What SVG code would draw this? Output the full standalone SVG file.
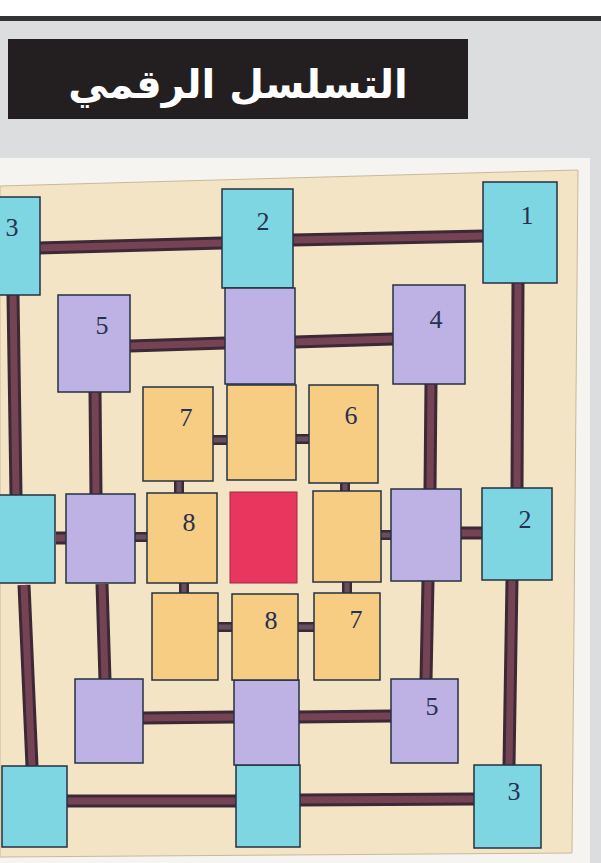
<svg xmlns="http://www.w3.org/2000/svg" width="601" height="863" viewBox="0 0 601 863">
<style>
.cy{fill:#7fd6e3;stroke:#263040;stroke-width:1.5}
.lv{fill:#bdb2e3;stroke:#263040;stroke-width:1.5}
.ye{fill:#f7cd84;stroke:#263040;stroke-width:1.5}
.rd{fill:#e8365e;stroke:#9a2a40;stroke-width:1}
.bo{stroke:#3d2836;stroke-width:13;fill:none}
.bi{stroke:#744454;stroke-width:7;fill:none}
.so{stroke:#3d2836;stroke-width:10;fill:none}
.si{stroke:#665060;stroke-width:5;fill:none}
.n{font-family:"Liberation Serif","Times New Roman",serif;font-size:26px;fill:#263050;text-anchor:middle}
</style>
<rect x="0" y="0" width="601" height="863" fill="#dcdddf"/>
<rect x="0" y="0" width="601" height="16" fill="#ffffff"/>
<rect x="0" y="16" width="601" height="5" fill="#333333"/>
<rect x="0" y="158" width="590" height="705" fill="#f5f4f1"/>
<polygon points="0,186 578,170 572,853 0,857" fill="#f3e4c6" stroke="#c9b99a" stroke-width="1"/>
<g id="title">
<rect x="8" y="39" width="460" height="80" fill="#231f20"/>
<text x="238" y="98" font-family="'DejaVu Sans','Noto Sans',sans-serif" font-weight="bold" font-size="40" fill="#ffffff" text-anchor="middle" direction="rtl">التسلسل الرقمي</text>
</g>
<g id="connectors">
<path class="bo" d="M38,248 L222,243 M293,240 L484,236 M518,282 L517,489 M512,580 L509,765 M67,801 L237,801 M300,800 L475,799 M13,295 L16,496 M24,585 L32,766 M130,346 L225,343 M295,342 L393,339 M95,391 L96,495 M102,584 L105,680 M431,383 L430,489 M428,581 L426,680 M143,718 L234,717 M298,717 L391,716 M56,538 L67,538 M460,533 L483,533"/>
<path class="bi" d="M38,248 L222,243 M293,240 L484,236 M518,282 L517,489 M512,580 L509,765 M67,801 L237,801 M300,800 L475,799 M13,295 L16,496 M24,585 L32,766 M130,346 L225,343 M295,342 L393,339 M95,391 L96,495 M102,584 L105,680 M431,383 L430,489 M428,581 L426,680 M143,718 L234,717 M298,717 L391,716 M56,538 L67,538 M460,533 L483,533"/>
<path class="so" d="M135,537 L148,537 M380,535 L391,535 M213,440 L228,440 M296,439 L309,439 M179,481 L179,493 M345,483 L345,491 M184,583 L184,594 M347,582 L347,593 M218,627 L232,627 M298,627 L314,627"/>
<path class="si" d="M135,537 L148,537 M380,535 L391,535 M213,440 L228,440 M296,439 L309,439 M179,481 L179,493 M345,483 L345,491 M184,583 L184,594 M347,582 L347,593 M218,627 L232,627 M298,627 L314,627"/>
</g>
<g id="outer-top-left"><rect class="cy" x="-2" y="197" width="42" height="98"/><text class="n" x="12" y="236">3</text></g>
<g id="outer-top-mid"><rect class="cy" x="222" y="189" width="71" height="99"/><text class="n" x="263" y="230">2</text></g>
<g id="outer-top-right"><rect class="cy" x="483" y="182" width="74" height="101"/><text class="n" x="527" y="224">1</text></g>
<g id="outer-mid-left"><rect class="cy" x="-2" y="495" width="57" height="88"/></g>
<g id="outer-mid-right"><rect class="cy" x="482" y="488" width="70" height="92"/><text class="n" x="525" y="528">2</text></g>
<g id="outer-bot-left"><rect class="cy" x="2" y="766" width="65" height="81"/></g>
<g id="outer-bot-mid"><rect class="cy" x="236" y="765" width="64" height="82"/></g>
<g id="outer-bot-right"><rect class="cy" x="474" y="765" width="67" height="83"/><text class="n" x="514" y="800">3</text></g>
<g id="mid-top-left"><rect class="lv" x="58" y="295" width="72" height="97"/><text class="n" x="102" y="334">5</text></g>
<g id="mid-top-mid"><rect class="lv" x="225" y="288" width="70" height="96"/></g>
<g id="mid-top-right"><rect class="lv" x="393" y="285" width="72" height="99"/><text class="n" x="436" y="328">4</text></g>
<g id="mid-mid-left"><rect class="lv" x="66" y="494" width="69" height="89"/></g>
<g id="mid-mid-right"><rect class="lv" x="391" y="489" width="70" height="92"/></g>
<g id="mid-bot-left"><rect class="lv" x="75" y="679" width="68" height="84"/></g>
<g id="mid-bot-mid"><rect class="lv" x="234" y="680" width="65" height="85"/></g>
<g id="mid-bot-right"><rect class="lv" x="391" y="679" width="67" height="84"/><text class="n" x="432" y="715">5</text></g>
<g id="in-top-left"><rect class="ye" x="143" y="387" width="70" height="94"/><text class="n" x="186" y="426">7</text></g>
<g id="in-top-mid"><rect class="ye" x="227" y="385" width="69" height="95"/></g>
<g id="in-top-right"><rect class="ye" x="309" y="385" width="69" height="98"/><text class="n" x="351" y="424">6</text></g>
<g id="in-mid-left"><rect class="ye" x="147" y="493" width="70" height="90"/><text class="n" x="189" y="531">8</text></g>
<g id="center"><rect class="rd" x="230" y="492" width="67" height="91"/></g>
<g id="in-mid-right"><rect class="ye" x="313" y="491" width="68" height="91"/></g>
<g id="in-bot-left"><rect class="ye" x="152" y="593" width="66" height="87"/></g>
<g id="in-bot-mid"><rect class="ye" x="232" y="594" width="66" height="86"/><text class="n" x="271" y="629">8</text></g>
<g id="in-bot-right"><rect class="ye" x="314" y="593" width="66" height="87"/><text class="n" x="356" y="628">7</text></g>
</svg>
